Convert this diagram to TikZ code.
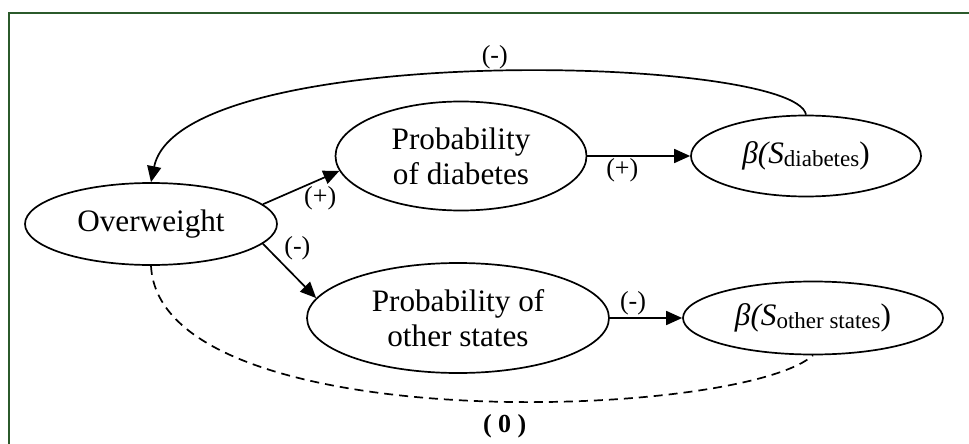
\documentclass[tikz,border=0pt]{standalone}
\usepackage{fontspec}
\setmainfont{Liberation Serif}
\usetikzlibrary{arrows.meta,shapes.geometric}
\definecolor{FrameGreen}{HTML}{2B5A2B}
\newcommand{\betasub}[1]{\textit{β(S}\raisebox{-1.5pt}{\fontsize{11.5}{13}\selectfont #1})}
\tikzset{
  estado/.style  = {draw, ellipse, align=center, inner sep=0pt, line width=0.85pt,
                    font=\fontsize{15.6}{17.5}\selectfont},
  flecha/.style  = {-{Triangle[length=8pt,width=7pt]}, line width=0.85pt},
  flechad/.style = {line width=0.85pt, dash pattern=on 4.5pt off 3pt},
  signo/.style   = {font=\fontsize{13}{15}\selectfont, inner sep=1pt},
}

\begin{document}
\begin{tikzpicture}[x=0.5pt, y=-0.5pt]
  \useasboundingbox (0,0) rectangle (969,444);
  \draw[FrameGreen, line width=1pt] (969,13) -- (9,13) -- (9,444);
  % nodes
  \node[estado, minimum width=126pt, minimum height=41pt] (ow) at (151,224) {Overweight};
  \node[estado, minimum width=125.5pt, minimum height=54.5pt] (pd) at (461,156) {Probability\\of diabetes};
  \node[estado, minimum width=115pt, minimum height=40.5pt] (bd) at (806,156) {\betasub{diabetes}};
  \node[estado, minimum width=151pt, minimum height=55pt] (po) at (458,318) {Probability of\\other states};
  \node[estado, minimum width=130pt, minimum height=36.5pt] (bo) at (813,318) {\betasub{other states}};
  % connectors
  \draw[flecha] (ow.10) -- (pd.187) node[signo, pos=0.75, below=2pt] {(+)};
  \draw[flecha] (ow.-10) -- (po.172) node[signo, pos=0.35, above right=0pt] {(-)};
  \draw[flecha] (pd.east) -- (bd.west) node[signo, pos=0.34, below] {(+)};
  \draw[flecha] (po.east) -- (bo.west) node[signo, pos=0.32, above] {(-)};
  \draw[flecha] (bd.north) .. controls (795,55) and (180,40) .. (ow.north)
    node[signo, pos=0.49, above] {(-)};
  \draw[flechad] (ow.south) .. controls (160,440) and (740,420) .. (bo.south)
    node[signo, pos=0.55, below=5pt, font=\fontsize{13}{15}\selectfont\bfseries] {( 0 )};
\end{tikzpicture}
\end{document}
